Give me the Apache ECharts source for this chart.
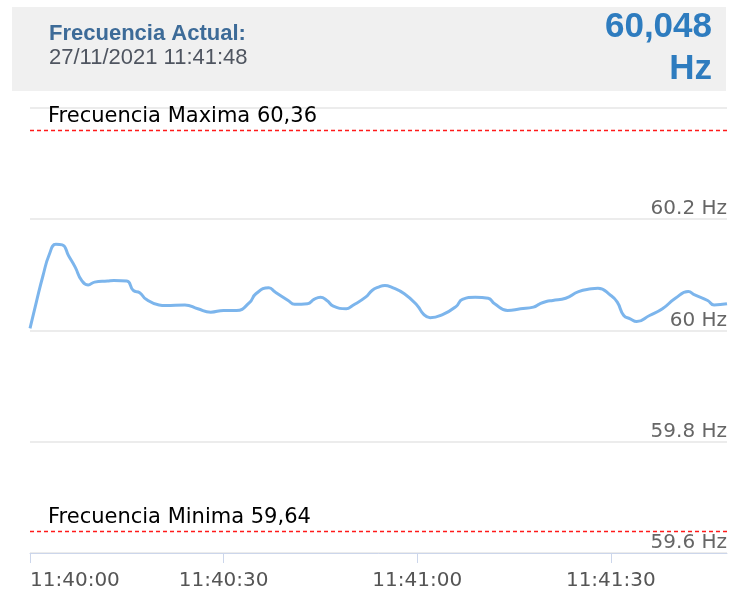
<!DOCTYPE html>
<html>
<head>
<meta charset="utf-8">
<script src="https://cdn.jsdelivr.net/npm/echarts@6/dist/echarts.min.js"></script>
<style>
html,body{margin:0;padding:0;background:#fff;}
#chart{width:734px;height:591px;}
</style>
</head>
<body>
<div id="chart"></div>
<script>
// ---- data ----
var times = ['11:40:00','11:40:01','11:40:02','11:40:03','11:40:04','11:40:05','11:40:06','11:40:07','11:40:08','11:40:09',
  '11:40:10','11:40:12','11:40:13','11:40:15','11:40:16','11:40:17','11:40:18','11:40:20','11:40:21','11:40:24',
  '11:40:26','11:40:28','11:40:30','11:40:32','11:40:34','11:40:35','11:40:37','11:40:38','11:40:40','11:40:41',
  '11:40:43','11:40:44','11:40:45','11:40:46','11:40:47','11:40:49','11:40:50','11:40:52','11:40:53','11:40:54',
  '11:40:55','11:40:56','11:40:58','11:41:00','11:41:01','11:41:02','11:41:04','11:41:06','11:41:07','11:41:09',
  '11:41:11','11:41:12','11:41:14','11:41:16','11:41:18','11:41:19','11:41:20','11:41:21','11:41:23','11:41:25',
  '11:41:27','11:41:28','11:41:30','11:41:31','11:41:32','11:41:33','11:41:34','11:41:36','11:41:38','11:41:40',
  '11:41:42','11:41:43','11:41:45','11:41:46','11:41:48'];
var values = [60.004,60.052,60.098,60.137,60.155,60.154,60.134,60.114,60.090,60.082,
  60.087,60.089,60.090,60.089,60.072,60.068,60.056,60.046,60.045,60.046,
  60.039,60.033,60.036,60.036,60.050,60.066,60.077,60.069,60.054,60.047,
  60.048,60.056,60.060,60.054,60.044,60.039,60.045,60.060,60.072,60.078,
  60.081,60.078,60.066,60.045,60.029,60.023,60.029,60.043,60.056,60.060,
  60.058,60.048,60.036,60.039,60.042,60.048,60.052,60.054,60.058,60.070,
  60.075,60.076,60.063,60.051,60.027,60.021,60.016,60.027,60.039,60.058,
  60.070,60.064,60.054,60.046,60.048];
var freqMax = 60.36;
var freqMin = 59.64;
var maxLabel = 'Frecuencia Maxima 60,36';
var minLabel = 'Frecuencia Minima 59,64';
var headerTitle = 'Frecuencia Actual:';
var headerDate = '27/11/2021 11:41:48';
var currentValue = '60,048';
var currentUnit = 'Hz';
var xStart = '11:40:00';
var xEnd = '11:41:48';
var xStepMs = 30000;
var yMin = 59.6, yMax = 60.4, yStep = 0.2;

function ts(t){ return Date.UTC(2021, 10, 27, +t.slice(0,2), +t.slice(3,5), +t.slice(6,8)); }
var seriesData = times.map(function(t,i){ return [ts(t), values[i]]; });

function pad(n){ return (n<10?'0':'')+n; }

var chart = echarts.init(document.getElementById('chart'), null, {renderer:'canvas'});
var markStyle = { color: '#ff1a1a', type: [4,3], width: 1.3 };
var option = {
  animation: false,
  backgroundColor: '#ffffff',
  grid: { left: 30, right: 7, top: 108, bottom: 38, containLabel: false, outerBoundsMode: 'none' },
  graphic: [
    { type:'rect', shape:{x:12, y:7, width:714, height:84}, style:{fill:'#f0f0f0'}, silent:true, z:-1 },
    { type:'text', left:49, top:23, style:{ text: headerTitle, fill:'#3d6b98', font:'bold 22px "Liberation Sans", Arial, sans-serif' } },
    { type:'text', left:49, top:47, style:{ text: headerDate, fill:'#4f5560', font:'22px "Liberation Sans", Arial, sans-serif' } },
    { type:'text', right:22, top:10, style:{ text: currentValue, fill:'#2e7cbf', font:'bold 35px "Liberation Sans", Arial, sans-serif', align:'right' } },
    { type:'text', right:22, top:52, style:{ text: currentUnit, fill:'#2e7cbf', font:'bold 35px "Liberation Sans", Arial, sans-serif', align:'right' } }
  ],
  xAxis: {
    type: 'value',
    min: ts(xStart),
    max: ts(xEnd),
    interval: xStepMs,
    axisLine: { show: true, lineStyle: { color: '#ccd6eb', width: 1 } },
    axisTick: { show: true, length: 10, lineStyle: { color: '#ccd6eb' } },
    splitLine: { show: false },
    minorTick: { show: false },
    axisLabel: {
      color: '#555',
      fontFamily: '"DejaVu Sans", Verdana, sans-serif',
      fontSize: 20,
      margin: 18,
      showMaxLabel: false,
      hideOverlap: false,
      alignMinLabel: 'left',
      formatter: function(v){
        var d = new Date(v);
        return pad(d.getUTCHours()) + ':' + pad(d.getUTCMinutes()) + ':' + pad(d.getUTCSeconds());
      }
    }
  },
  yAxis: {
    type: 'value',
    position: 'right',
    min: yMin,
    max: yMax,
    interval: yStep,
    axisLine: { show: false },
    axisTick: { show: false },
    splitLine: { show: true, lineStyle: { color: '#e6e6e6', width: 1.5 } },
    axisLabel: {
      inside: true,
      showMaxLabel: false,
      color: '#666',
      fontFamily: '"DejaVu Sans", Verdana, sans-serif',
      fontSize: 20,
      align: 'right',
      verticalAlign: 'bottom',
      lineHeight: 20,
      margin: 0,
      padding: 0,
      formatter: function(v){ return (Math.round(v*10)/10) + ' Hz'; }
    }
  },
  series: [{
    type: 'line',
    data: seriesData,
    showSymbol: false,
    smooth: 0.5,
    lineStyle: { color: '#7cb5ec', width: 3 },
    itemStyle: { color: '#7cb5ec' },
    markLine: {
      silent: true,
      symbol: ['none','none'],
      lineStyle: markStyle,
      label: {
        show: true,
        position: 'insideStartTop',
        color: '#000',
        fontFamily: '"DejaVu Sans", Verdana, sans-serif',
        fontSize: 21,
        distance: [18, 3],
        formatter: function(p){ return p.name; }
      },
      data: [
        { yAxis: freqMax, name: maxLabel, lineStyle: markStyle },
        { yAxis: freqMin, name: minLabel, lineStyle: markStyle }
      ]
    }
  }]
};
chart.setOption(option);
</script>
</body>
</html>
